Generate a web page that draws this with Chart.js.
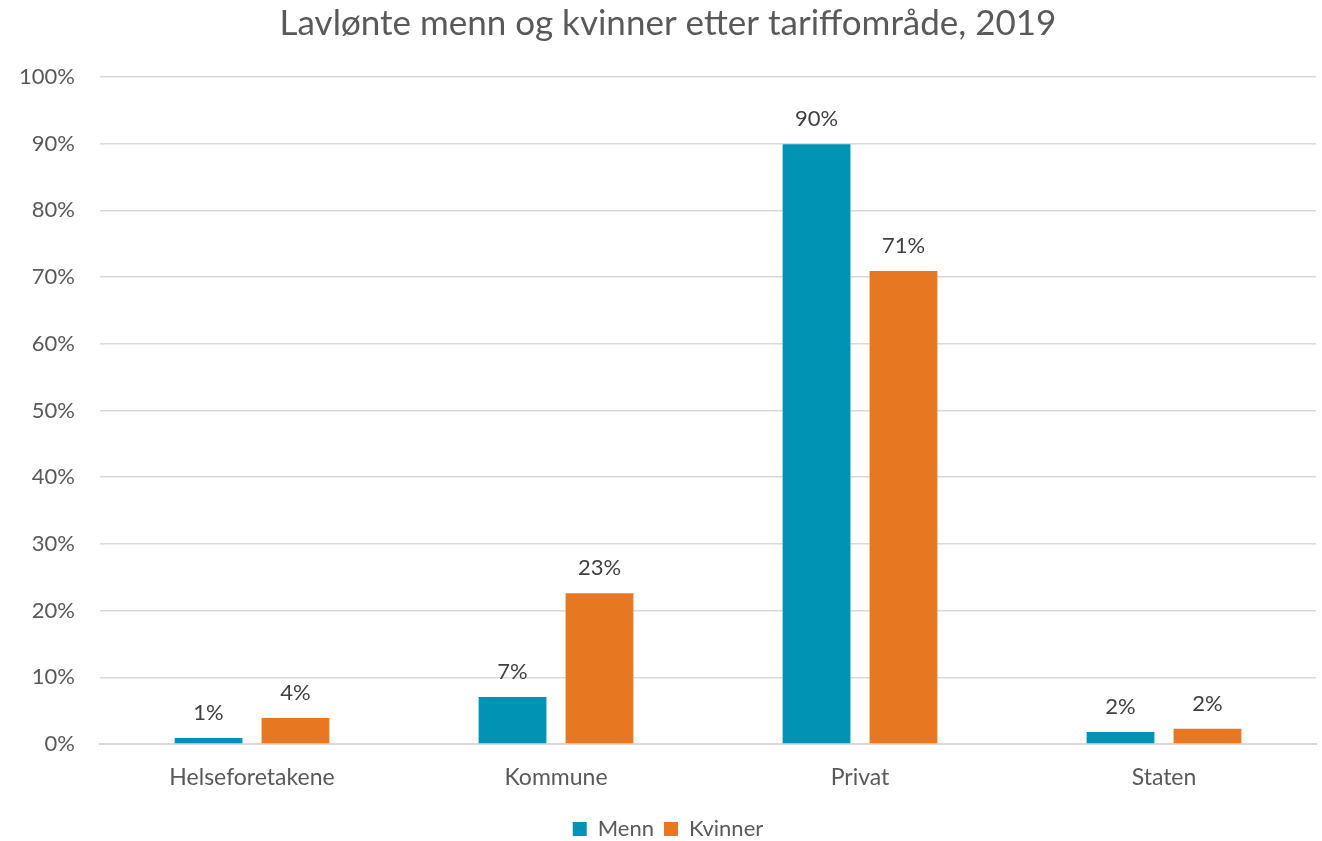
<!DOCTYPE html>
<html><head><meta charset="utf-8">
<script src="https://cdn.jsdelivr.net/npm/chart.js@4/dist/chart.umd.min.js"></script>
<style>html,body{margin:0;padding:0;background:#fff;overflow:hidden}#wrap{width:1322px;height:841px}</style>
</head><body><div id="wrap"><canvas id="c" width="1322" height="841"></canvas></div>
<script>
const categories = ["Helseforetakene", "Kommune", "Privat", "Staten"];
const menn = [0.9, 7.05, 89.9, 1.8];
const kvinner = [3.9, 22.6, 70.9, 2.3];
const seriesNames = ["Menn", "Kvinner"];
const yTicks = [0,10,20,30,40,50,60,70,80,90,100];

const FONT = "'Source Sans Pro', Lato, 'Open Sans', sans-serif";
const labelPlugin = {
  id: 'barLabels',
  afterDatasetsDraw(chart) {
    const ctx = chart.ctx;
    ctx.save();
    ctx.font = "22px " + FONT;
    ctx.fillStyle = "#404040";
    ctx.textAlign = "center";
    ctx.textBaseline = "middle";
    chart.data.datasets.forEach((ds, i) => {
      chart.getDatasetMeta(i).data.forEach((bar, j) => {
        ctx.fillText(Math.round(ds.data[j]) + "%", bar.x, bar.y - 25);
      });
    });
    ctx.restore();
  }
};

new Chart(document.getElementById('c'), {
  type: 'bar',
  data: {
    labels: categories,
    datasets: [
      { label: seriesNames[0], data: menn, backgroundColor: '#0093B3' },
      { label: seriesNames[1], data: kvinner, backgroundColor: '#E87722' }
    ]
  },
  options: {
    responsive: false,
    animation: false,
    layout: { padding: { left: 20, right: 6, top: 0, bottom: -9 } },
    datasets: { bar: { categoryPercentage: 0.572, barPercentage: 0.78 } },
    plugins: {
      title: { display: true, text: "Lavlønte menn og kvinner etter tariffområde, 2019",
        color: '#595959', font: { family: FONT, size: 35, weight: 'normal' }, padding: { top: 3, bottom: 32 } },
      legend: { position: 'bottom', labels: { color: '#595959', font: { family: FONT, size: 22 },
        boxWidth: 14, boxHeight: 14, padding: 10 } },
      tooltip: { enabled: false }
    },
    scales: {
      x: { grid: { display: false }, border: { color: '#d9d9d9', width: 2 },
        afterFit: (s) => { s.height = 64; },
        ticks: { color: '#595959', font: { family: FONT, size: 23 }, padding: 12 } },
      y: { min: 0, max: 100, afterBuildTicks: (a) => { a.ticks = yTicks.map(v => ({ value: v })); },
        afterFit: (s) => { s.width = 80; },
        grid: { color: '#d9d9d9', lineWidth: 1.5, drawTicks: false }, border: { display: false },
        ticks: { color: '#595959', font: { family: FONT, size: 22 }, padding: 25, callback: v => v + '%' } }
    }
  },
  plugins: [labelPlugin]
});
</script></body></html>
